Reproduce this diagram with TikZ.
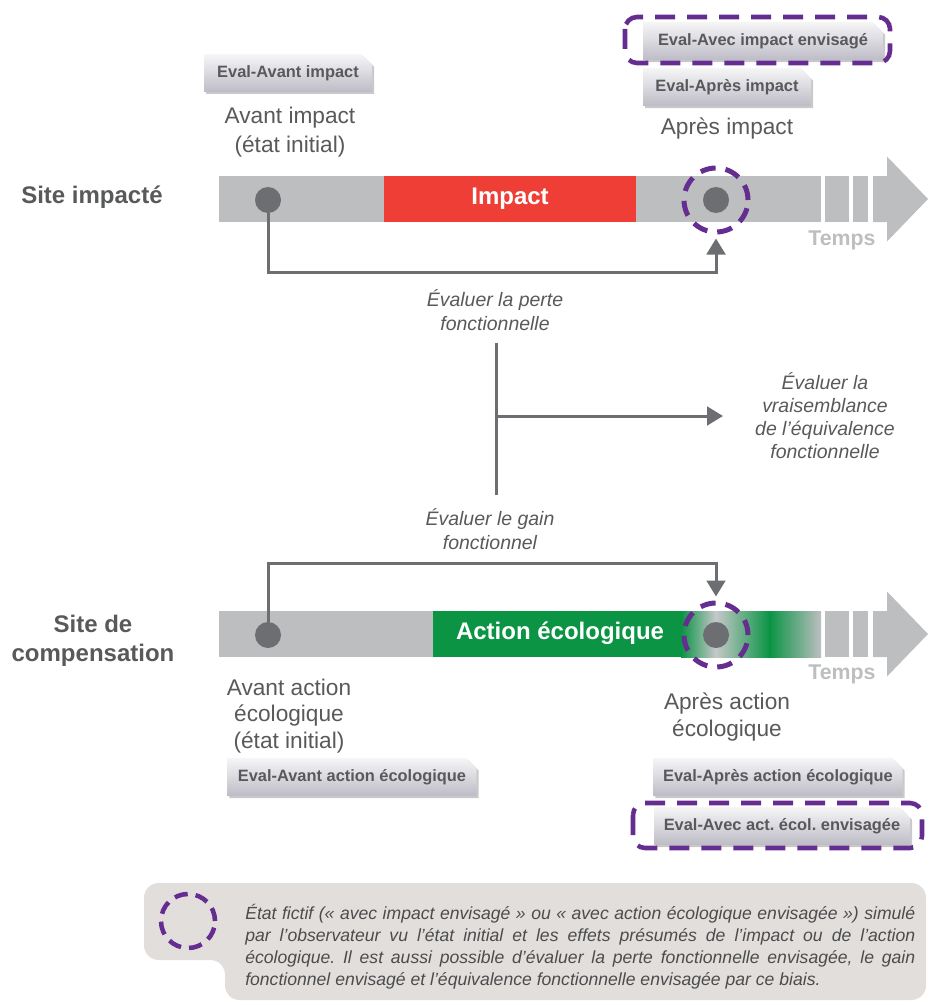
\documentclass[tikz,border=0pt]{standalone}
\usepackage{fontspec}
\setmainfont{Liberation Sans}
\usepackage{xcolor}
\usetikzlibrary{arrows.meta,shapes.misc,shadows}
\frenchspacing

\definecolor{bargray}{HTML}{BCBEC0}
\definecolor{dotgray}{HTML}{6D6E71}
\definecolor{txtgray}{HTML}{58595B}
\definecolor{purp}{HTML}{662D91}
\definecolor{impred}{HTML}{EF3E36}
\definecolor{ecogreen}{HTML}{0A9444}
\definecolor{notefill}{HTML}{E2DEDC}
\definecolor{tagtop}{HTML}{F6F6F8}
\definecolor{tagbot}{HTML}{BDBCC6}

\begin{document}
\begin{tikzpicture}[x=0.75pt, y=-0.75pt,
    evaltag/.style={chamfered rectangle, chamfered rectangle corners=north east,
        chamfered rectangle xsep=4pt, chamfered rectangle ysep=4pt,
        inner ysep=4.5pt, top color=tagtop, bottom color=tagbot,
        drop shadow={shadow xshift=1.5pt, shadow yshift=-1.5pt, opacity=0.3, fill=black!70},
        font=\fontsize{12.3}{14}\selectfont\bfseries, text=txtgray},
    sitelbl/.style={align=center, font=\fontsize{18}{21.75}\selectfont\bfseries, text=txtgray},
    statelbl/.style={align=center, font=\fontsize{17}{20}\selectfont, text=txtgray},
    evallbl/.style={align=center, font=\fontsize{14.6}{18}\selectfont\itshape, text=txtgray},
    phaselbl/.style={font=\fontsize{18}{21}\selectfont\bfseries, text=white},
    tempslbl/.style={font=\fontsize{16}{19}\selectfont\bfseries, text=bargray},
    dot/.style={circle, fill=dotgray, minimum size=19.5pt, inner sep=0pt},
    fictif/.style={circle, draw=purp, line width=3.75pt, dash pattern=on 11.5pt off 7.5pt, minimum size=48pt, inner sep=0pt},
    envisbox/.style={draw=purp, line width=3.4pt, dash pattern=on 15pt off 9pt, rounded corners=9pt},
    conn/.style={draw=dotgray, line width=2.25pt, -{Triangle[width=14pt, length=12pt]}},
    connline/.style={draw=dotgray, line width=2.25pt}
]
\useasboundingbox (0,0) rectangle (928,1002);

% timelines
\foreach \y in {199, 634} {
  \fill[bargray] (219,\y-23) rectangle (821,\y+23);
  \fill[bargray] (825,\y-23) rectangle (849,\y+23);
  \fill[bargray] (853,\y-23) rectangle (868,\y+23);
  \fill[bargray] (873,\y-23) -- (887,\y-23) -- (887,\y-42.5) -- (928,\y)
    -- (887,\y+42.5) -- (887,\y+23) -- (873,\y+23) -- cycle;
}
\fill[impred] (384,176) rectangle (636,222);
\fill[ecogreen] (433,611) rectangle (682,657);
\shade[left color=ecogreen, right color=bargray!85!white] (681,611) rectangle (716,657);
\shade[left color=bargray!85!white, right color=ecogreen] (715.5,611) rectangle (770,657);
\shade[left color=ecogreen, right color=bargray] (769.5,611) rectangle (821,657);

\node[phaselbl] (impact) at (510,199) {Impact};
\node[phaselbl] (action) at (560,633) {Action écologique};
\node[tempslbl] (temps1) at (842,240) {Temps};
\node[tempslbl] (temps2) at (842,674) {Temps};

% points d'observation
\node[dot] (d1) at (268,200) {};
\node[dot] (d2) at (716,200) {};
\node[fictif] (c1) at (716,200) {};
\node[dot] (d3) at (268,635) {};
\node[dot] (d4) at (716,635) {};
\node[fictif] (c2) at (716,635) {};

% labels
\node[sitelbl] (sitei) at (92,197) {Site impacté};
\node[sitelbl] (sitec) at (93,641) {Site de\\compensation};
\node[statelbl, font=\fontsize{17}{21.75}\selectfont] (avi) at (290,132) {Avant impact\\(état initial)};
\node[statelbl] (api) at (727,129) {Après impact};
\node[statelbl] (ava) at (289,716) {Avant action\\écologique\\(état initial)};
\node[statelbl] (apa) at (727,717) {Après action\\écologique};

% evaluations
\node[evaltag, minimum width=126pt] (t1) at (288,73) {Eval-Avant impact};
\node[evaltag, minimum width=180pt] (t2) at (763,41) {Eval-Avec impact envisagé};
\node[evaltag, minimum width=126pt] (t3) at (727,87) {Eval-Après impact};
\node[evaltag, minimum width=187pt] (t4) at (352,777) {Eval-Avant action écologique};
\node[evaltag, minimum width=187pt] (t5) at (778,777) {Eval-Après action écologique};
\node[evaltag, minimum width=192pt] (t6) at (782,826) {Eval-Avec act. écol. envisagée};
\draw[envisbox] (625,17) rectangle (890,63);
\draw[envisbox] (633,803) rectangle (922,848);

% connecteurs
\coordinate (k1) at (496,272);
\coordinate (k2) at (496,563);
\coordinate (m1) at (496,343);
\coordinate (m2) at (496,495);
\coordinate (m3) at (496,416);
\coordinate (m4) at (723,416);
\draw[conn, shorten >=3pt] (d1.south) |- (k1) -| (c1.south);
\draw[conn, shorten >=3pt] (d3.north) |- (k2) -| (c2.north);
\draw[connline] (m1) -- (m2);
\draw[conn] (m3) -- (m4);

\node[evallbl] (perte) at (495,310) {Évaluer la perte\\fonctionnelle};
\node[evallbl] (gain) at (490,529) {Évaluer le gain\\fonctionnel};
\node[evallbl, font=\fontsize{14.6}{17.25}\selectfont\itshape] (equiv) at (825,416) {Évaluer la\\vraisemblance\\de l’équivalence\\fonctionnelle};

% encadre de legende
\fill[notefill, rounded corners=11pt] (144,883) -- (926,883) -- (926,1000)
  -- (225,1000) -- (225,960) -- (144,960) -- cycle;
\node[circle, draw=purp, line width=3.4pt, dash pattern=on 10pt off 6pt, minimum size=40.5pt, inner sep=0pt] (c3) at (188,921) {};
\node[anchor=west, inner sep=0pt, text width=502.5pt, align=justify, text=txtgray!85!black,
  font=\fontsize{13.2}{16.5}\selectfont\itshape] (note) at (245,947)
  {État fictif («~avec impact envisagé~» ou «~avec action écologique envisagée~») simulé\linebreak
   par l’observateur vu l’état initial et les effets présumés de l’impact ou de l’action\linebreak
   écologique. Il est aussi possible d’évaluer la perte fonctionnelle envisagée, le gain\linebreak
   fonctionnel envisagé et l’équivalence fonctionnelle envisagée par ce biais.};
\end{tikzpicture}
\end{document}
